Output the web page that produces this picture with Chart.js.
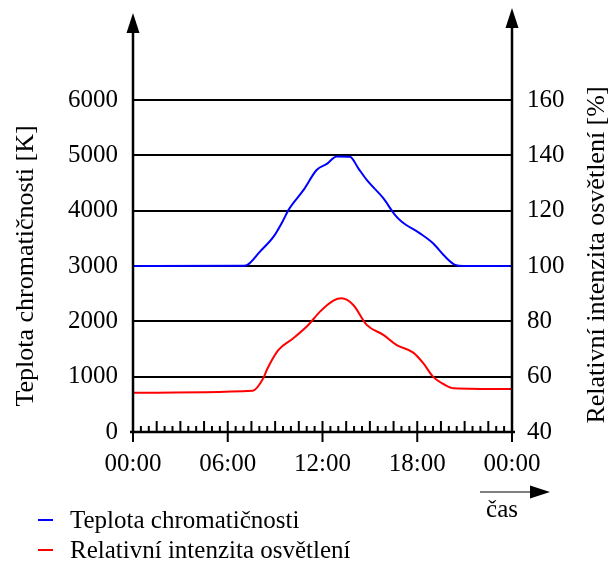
<!DOCTYPE html>
<html>
<head>
<meta charset="utf-8">
<script src="https://cdn.jsdelivr.net/npm/chart.js@4"></script>
<style>
    body { margin: 0; background: #fff; }
    #wrap { position: relative; width: 612px; height: 562px; }
    #legend { position: absolute; left: 38px; top: 505px; font: 25px 'Liberation Serif', serif; color: #000; }
    #legend div { height: 30px; line-height: 30px; white-space: nowrap; }
    #legend span { display: inline-block; width: 15px; height: 2px; margin-right: 17px; vertical-align: middle; position: relative; top: -2px; }
</style>
</head>
<body>
<div id="wrap">
    <canvas id="chart" width="612" height="562"></canvas>
    <div id="legend"></div>
</div>
<script>
// hodiny dne
const tempHours = [0, 7.0, 7.3, 8.04, 8.9, 9.52, 9.84, 10.79, 11.63, 12.27, 12.9, 13.74, 14.27, 14.8, 15.85, 16.6, 17.02, 18.17, 19.0, 19.76, 20.4, 20.92, 24];
// teplota chromatičnosti [K]
const tempValues = [3000, 3005, 3030, 3260, 3530, 3830, 4010, 4370, 4735, 4845, 4980, 4975, 4765, 4555, 4225, 3920, 3800, 3590, 3410, 3170, 3020, 3000, 3000];

const lightHours = [0, 7.58, 8.25, 8.47, 9.2, 10.15, 11.1, 11.84, 12.69, 13.21, 13.95, 14.8, 15.85, 16.7, 17.75, 18.39, 19.0, 19.76, 20.3, 24];
// relativní intenzita osvětlení [%]
const lightValues = [54.2, 54.9, 59.4, 62.4, 69.6, 73.9, 78.7, 83.5, 87.5, 88.3, 85.9, 78.7, 75.1, 71.4, 68.7, 64.8, 60.0, 57.0, 55.8, 55.5];

const seriesLabels = ['Teplota chromatičnosti', 'Relativní intenzita osvětlení'];
const seriesColors = ['#0000ff', '#ff0000'];
const leftTitle = 'Teplota chromatičnosti [K]';
const rightTitle = 'Relativní intenzita osvětlení [%]';
const timeLabel = 'čas';

const FONT = "'Liberation Serif', serif";

function toPoints(xs, ys) {
    return xs.map((x, i) => ({x: x, y: ys[i]}));
}

// osy se šipkami, vedlejší značky na ose x a popisek "čas"
const axesDecor = {
    id: 'axesDecor',
    afterDraw(chart) {
        const ctx = chart.ctx;
        const area = chart.chartArea;
        const xs = chart.scales.x;
        ctx.save();
        ctx.strokeStyle = '#000';
        ctx.fillStyle = '#000';

        // svislé osy s šipkou
        const arrows = [[area.left, area.top - 87], [area.right, area.top - 92]];
        ctx.lineWidth = 2.5;
        arrows.forEach(([ax, tip]) => {
            ctx.beginPath();
            ctx.moveTo(ax, area.bottom + 1);
            ctx.lineTo(ax, tip + 18);
            ctx.stroke();
            ctx.beginPath();
            ctx.moveTo(ax, tip);
            ctx.lineTo(ax - 6.5, tip + 20);
            ctx.lineTo(ax + 6.5, tip + 20);
            ctx.closePath();
            ctx.fill();
        });

        // vodorovná osa
        ctx.beginPath();
        ctx.moveTo(area.left - 3, area.bottom);
        ctx.lineTo(area.right + 3, area.bottom);
        ctx.stroke();

        // značky: každou půlhodinu, delší po 1,5 h, hlavní po 6 h
        ctx.lineWidth = 2;
        for (let h = 0; h <= 48; h++) {
            const px = xs.getPixelForValue(h / 2);
            ctx.beginPath();
            if (h % 12 === 0) {
                ctx.moveTo(px, area.bottom - 11);
                ctx.lineTo(px, area.bottom + 10);
            } else if (h % 3 === 0) {
                ctx.moveTo(px, area.bottom - 11);
                ctx.lineTo(px, area.bottom);
            } else {
                ctx.moveTo(px, area.bottom - 6);
                ctx.lineTo(px, area.bottom);
            }
            ctx.stroke();
        }

        // šipka času
        const ay = area.bottom + 60;
        ctx.lineWidth = 1.2;
        ctx.beginPath();
        ctx.moveTo(area.right - 32, ay);
        ctx.lineTo(area.right + 20, ay);
        ctx.stroke();
        ctx.beginPath();
        ctx.moveTo(area.right + 38, ay);
        ctx.lineTo(area.right + 18, ay - 6.5);
        ctx.lineTo(area.right + 18, ay + 6.5);
        ctx.closePath();
        ctx.fill();
        ctx.font = '25px ' + FONT;
        ctx.textAlign = 'center';
        ctx.textBaseline = 'middle';
        ctx.fillText(timeLabel, area.right - 10, ay + 18);

        // název pravé osy (čte se zdola nahoru)
        ctx.font = '26px ' + FONT;
        ctx.translate(chart.width - 15, (area.top + area.bottom) / 2 - 11);
        ctx.rotate(-Math.PI / 2);
        ctx.fillText(rightTitle, 0, 0);
        ctx.restore();
    }
};

const ctx = document.getElementById('chart').getContext('2d');
const chart = new Chart(ctx, {
    type: 'line',
    data: {
        datasets: [{
            label: seriesLabels[0],
            data: toPoints(tempHours, tempValues),
            borderColor: seriesColors[0],
            backgroundColor: seriesColors[0],
            borderWidth: 2,
            pointRadius: 0,
            cubicInterpolationMode: 'monotone',
            yAxisID: 'y'
        }, {
            label: seriesLabels[1],
            data: toPoints(lightHours, lightValues),
            borderColor: seriesColors[1],
            backgroundColor: seriesColors[1],
            borderWidth: 2,
            pointRadius: 0,
            cubicInterpolationMode: 'monotone',
            yAxisID: 'y1'
        }]
    },
    options: {
        responsive: false,
        animation: false,
        layout: { padding: { top: 100, left: 0, right: 0, bottom: 0 } },
        plugins: {
            legend: { display: false },
            tooltip: { enabled: false }
        },
        scales: {
            x: {
                type: 'linear',
                min: 0,
                max: 24,
                afterFit: (scale) => { scale.height = 130; },
                grid: { display: false },
                border: { display: false },
                ticks: {
                    stepSize: 6,
                    padding: 9,
                    maxRotation: 0,
                    color: '#000',
                    font: { family: FONT, size: 25 },
                    callback: (v) => String(v % 24).padStart(2, '0') + ':00'
                }
            },
            y: {
                position: 'left',
                min: 0,
                max: 6000,
                afterFit: (scale) => { scale.width = 133; },
                grid: { color: '#000', lineWidth: 2, drawTicks: false },
                border: { display: false },
                ticks: {
                    stepSize: 1000,
                    padding: 15,
                    color: '#000',
                    font: { family: FONT, size: 25 },
                    callback: (v) => String(v)
                },
                title: {
                    display: true,
                    text: leftTitle,
                    color: '#000',
                    font: { family: FONT, size: 26 },
                    padding: { top: 11, bottom: 0 }
                }
            },
            y1: {
                position: 'right',
                min: 40,
                max: 160,
                afterFit: (scale) => { scale.width = 100; },
                grid: { display: false, drawTicks: false },
                border: { display: false },
                ticks: {
                    stepSize: 20,
                    padding: 15,
                    color: '#000',
                    font: { family: FONT, size: 25 },
                    callback: (v) => String(v)
                }
            }
        }
    },
    plugins: [axesDecor]
});

// legenda pod grafem
const legend = document.getElementById('legend');
chart.data.datasets.forEach((ds) => {
    const row = document.createElement('div');
    const mark = document.createElement('span');
    mark.style.background = ds.borderColor;
    row.appendChild(mark);
    row.appendChild(document.createTextNode(ds.label));
    legend.appendChild(row);
});
</script>
</body>
</html>
